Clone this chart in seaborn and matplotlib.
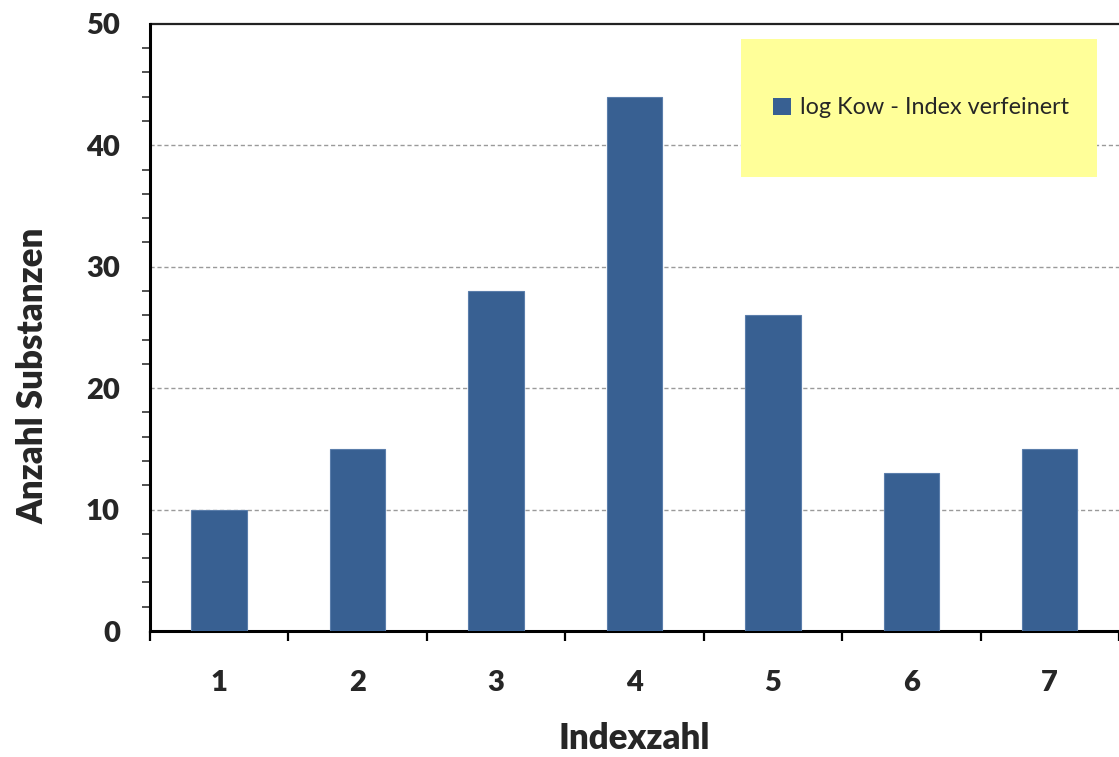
import matplotlib
matplotlib.use("Agg")
import matplotlib.pyplot as plt
from matplotlib.patches import Rectangle, Patch
from matplotlib.ticker import MultipleLocator, FixedLocator
import seaborn as sns
import pandas as pd

# Data
categories = ["1", "2", "3", "4", "5", "6", "7"]
counts = [10, 15, 28, 44, 26, 13, 15]
series_name = "log Kow - Index verfeinert"
y_ticks = [0, 10, 20, 30, 40, 50]

bar_color = "#386092"

sns.set_theme(style="white")
plt.rcParams["font.family"] = ["Lato", "DejaVu Sans"]

df = pd.DataFrame({"Indexzahl": categories, "Anzahl": counts})

fig = plt.figure(figsize=(11.19, 7.57), dpi=100)
ax = fig.add_axes([0.134, 0.1664, 0.866, 0.802])

sns.barplot(data=df, x="Indexzahl", y="Anzahl", color=bar_color,
            width=0.4, saturation=1, edgecolor="#5b7eab", linewidth=0.8,
            ax=ax, zorder=3)

ax.set_xlim(-0.5, 6.5)
ax.set_ylim(0, 50)

# dashed grid lines at the major y steps
for v in y_ticks[1:-1]:
    ax.axhline(v, color="#9a9a9a", linewidth=1.0, linestyle=(0, (3, 2)), zorder=1)
ax.axhline(50, color="#222222", linewidth=1.6, zorder=1, clip_on=False)

bold = "heavy"

ax.yaxis.set_major_locator(FixedLocator(y_ticks))
ax.yaxis.set_minor_locator(MultipleLocator(2))
ax.tick_params(axis="y", which="major", direction="out", length=8.6, width=1.6,
               color="black", pad=13, labelsize=21)
ax.tick_params(axis="y", which="minor", direction="out", length=6, width=1.2,
               color="#333333", left=True)
for lbl in ax.get_yticklabels():
    lbl.set_fontweight(bold)

# x tick marks sit between the categories; labels centered under the bars
ax.set_xticks(range(len(categories)))
ax.set_xticklabels(categories, fontsize=21, fontweight=bold)
ax.xaxis.set_minor_locator(FixedLocator([i + 0.5 for i in range(-1, len(categories))]))
ax.tick_params(axis="x", which="major", length=0, pad=28)
ax.tick_params(axis="x", which="minor", direction="out", length=7, width=1.6,
               color="black", bottom=True)

for side in ("top", "right"):
    ax.spines[side].set_visible(False)
for side in ("left", "bottom"):
    ax.spines[side].set_linewidth(2.2)
    ax.spines[side].set_color("black")

ax.set_xlabel("Indexzahl", fontsize=25, fontweight=bold)
ax.set_ylabel("Anzahl Substanzen", fontsize=25, fontweight=bold)
ax.xaxis.set_label_coords(0.5, -0.150)
ax.yaxis.set_label_coords(-0.104, 0.42)

# legend on a pale yellow panel
fig.patches.append(Rectangle((741 / 1119, 1 - 177 / 757), 356 / 1119, 138 / 757,
                             transform=fig.transFigure, facecolor="#FFFF99",
                             edgecolor="none", zorder=5))
handle = Patch(facecolor=bar_color, edgecolor="none")
leg = fig.legend([handle], [series_name], loc="center",
                 bbox_to_anchor=(921 / 1119, 1 - 108 / 757),
                 frameon=False, fontsize=16.8, handlelength=0.75, handleheight=0.75,
                 handletextpad=0.4)
leg.set_zorder(6)

fig.savefig("out.png", dpi=100)
